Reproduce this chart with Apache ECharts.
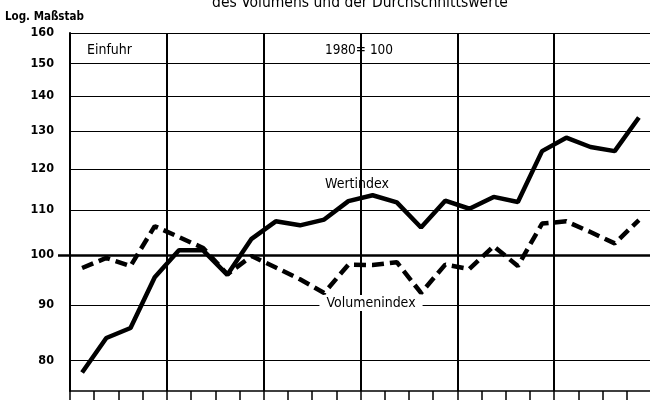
<!DOCTYPE html>
<html>
<head>
<meta charset="utf-8">
<script src="https://cdn.jsdelivr.net/npm/echarts@6/dist/echarts.min.js"></script>
<style>
  html, body { margin: 0; background: #fff; }
  #chart { width: 650px; height: 400px; }
</style>
</head>
<body>
<div id="chart"></div>
<script>
// Quarters 1979 - 1984, index 1980 = 100
const quarters = [
  "1979 I", "1979 II", "1979 III", "1979 IV",
  "1980 I", "1980 II", "1980 III", "1980 IV",
  "1981 I", "1981 II", "1981 III", "1981 IV",
  "1982 I", "1982 II", "1982 III", "1982 IV",
  "1983 I", "1983 II", "1983 III", "1983 IV",
  "1984 I", "1984 II", "1984 III", "1984 IV"
];
const wertindex = [
  78.0, 83.9, 85.7, 95.4, 101.0, 101.0, 95.9, 103.5,
  107.4, 106.5, 107.8, 112.1, 113.5, 111.8, 106.0, 112.2,
  110.3, 113.1, 111.9, 124.6, 128.2, 125.7, 124.6, 133.8
];
const volumenindex = [
  97.3, 99.4, 97.7, 106.3, 103.9, 101.5, 96.0, 99.8,
  97.4, 95.0, 92.3, 98.0, 97.9, 98.5, 92.3, 98.0,
  97.1, 101.9, 97.7, 106.9, 107.4, 105.0, 102.5, 107.7
];
const yTicks = [80, 90, 100, 110, 120, 130, 140, 150, 160];
const baseLine = [100];

const FONT = "'Liberation Sans Narrow', 'DejaVu Sans Condensed', 'Arial Narrow', sans-serif";

const chart = echarts.init(document.getElementById("chart"));

const option = {
  animation: false,
  backgroundColor: "#fff",
  textStyle: { fontFamily: FONT },
  grid: {
    left: 70,
    top: 33,
    width: 581,
    height: 358,
    outerBoundsMode: "none",
    containLabel: false
  },
  xAxis: {
    type: "category",
    data: quarters,
    boundaryGap: true,
    axisLine: { lineStyle: { color: "#000", width: 1.5 } },
    axisTick: { show: true, interval: 0, length: 9, lineStyle: { color: "#000", width: 1.5 } },
    axisLabel: { show: false },
    splitLine: { show: true, interval: 3, lineStyle: { color: "#000", width: 2 } }
  },
  yAxis: [
    {
      type: "log",
      logBase: 10,
      min: 75,
      max: 160,
      axisLine: { show: true, lineStyle: { color: "#000", width: 2 } },
      axisTick: { show: false, customValues: yTicks },
      axisLabel: {
        customValues: yTicks,
        color: "#000",
        fontFamily: FONT,
        fontWeight: "bold",
        fontSize: 12.5,
        margin: 16
      },
      splitLine: { show: true, lineStyle: { color: "#000", width: 1.2 } }
    },
    {
      // thick 1980 = 100 base line with its tick
      type: "log",
      logBase: 10,
      min: 75,
      max: 160,
      position: "left",
      axisLine: { show: false },
      axisTick: { show: true, customValues: baseLine, length: 12, lineStyle: { color: "#000", width: 2.5 } },
      axisLabel: { show: false },
      splitLine: { show: true, lineStyle: { color: "#000", width: 2.5 } }
    }
  ],
  series: [
    {
      name: "Volumenindex",
      type: "line",
      data: volumenindex,
      showSymbol: false,
      lineStyle: { color: "#000", width: 4.5, type: [12, 6], cap: "butt" },
      z: 3
    },
    {
      name: "Wertindex",
      type: "line",
      data: wertindex,
      showSymbol: false,
      lineStyle: { color: "#000", width: 4.5 },
      z: 4
    }
  ],
  graphic: [
    {
      type: "text", x: 360, y: 3, z: 100,
      style: { text: "des Volumens und der Durchschnittswerte", font: "15.5px " + FONT, fill: "#000", align: "center", verticalAlign: "middle" }
    },
    {
      type: "text", x: 5, y: 17, z: 100,
      style: { text: "Log. Maßstab", font: "bold 11.5px " + FONT, fill: "#000", align: "left", verticalAlign: "middle" }
    },
    {
      type: "text", x: 87, y: 50, z: 100,
      style: { text: "Einfuhr", font: "14px " + FONT, fill: "#000", align: "left", verticalAlign: "middle" }
    },
    {
      type: "text", x: 359, y: 50, z: 100,
      style: { text: "1980= 100", font: "13.5px " + FONT, fill: "#000", align: "center", verticalAlign: "middle" }
    },
    {
      type: "text", x: 357, y: 184, z: 100,
      style: { text: "Wertindex", font: "14px " + FONT, fill: "#000", align: "center", verticalAlign: "middle" }
    },
    {
      type: "text", x: 371, y: 303, z: 100,
      style: { text: "Volumenindex", font: "14px " + FONT, fill: "#000", align: "center", verticalAlign: "middle", backgroundColor: "#fff", padding: [1, 7] }
    }
  ]
};

chart.setOption(option);
</script>
</body>
</html>
